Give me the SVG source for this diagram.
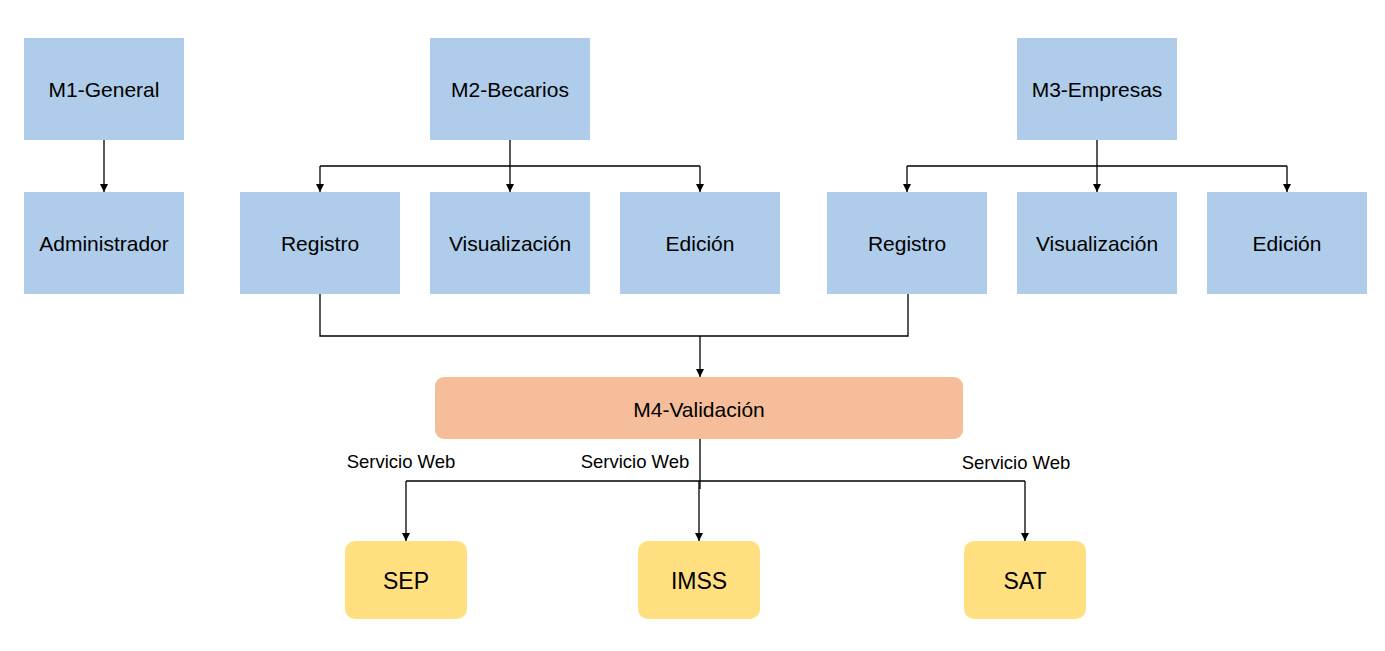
<svg xmlns="http://www.w3.org/2000/svg" width="1385" height="651" viewBox="0 0 1385 651">
<style>
.blue{fill:#AFCDEA}
.orange{fill:#F5BD99}
.yellow{fill:#FFDF80}
.t{font-family:"Liberation Sans",Arial,sans-serif;font-size:21px;fill:#000;text-anchor:middle;dominant-baseline:central}
.big{font-size:23px}
.lbl{font-family:"Liberation Sans",Arial,sans-serif;font-size:18.5px;fill:#000;text-anchor:middle}
.c{fill:none;stroke:#000;stroke-width:1.3}
</style>
<defs>
<marker id="ah" viewBox="0 0 10 10" refX="10" refY="5" markerWidth="8" markerHeight="8" markerUnits="userSpaceOnUse" orient="auto">
<path d="M0,0 L10,5 L0,10 z" fill="#000"/>
</marker>
</defs>
<rect width="1385" height="651" fill="#fff"/>
<g id="connectors">
<path class="c" d="M104,140 V192" marker-end="url(#ah)"/>
<path class="c" d="M510,140 V166 M320,166 H700"/>
<path class="c" d="M320,166 V192" marker-end="url(#ah)"/>
<path class="c" d="M510,166 V192" marker-end="url(#ah)"/>
<path class="c" d="M700,166 V192" marker-end="url(#ah)"/>
<path class="c" d="M1097,140 V166 M907,166 H1287"/>
<path class="c" d="M907,166 V192" marker-end="url(#ah)"/>
<path class="c" d="M1097,166 V192" marker-end="url(#ah)"/>
<path class="c" d="M1287,166 V192" marker-end="url(#ah)"/>
<path class="c" d="M320,294 V336 H908 V294"/>
<path class="c" d="M700,336 V377" marker-end="url(#ah)"/>
<path class="c" d="M700,439 V489 M406,481 H1025"/>
<path class="c" d="M406,481 V541" marker-end="url(#ah)"/>
<path class="c" d="M699,481 V541" marker-end="url(#ah)"/>
<path class="c" d="M1025,481 V541" marker-end="url(#ah)"/>
<text class="lbl" x="401" y="468">Servicio Web</text>
<text class="lbl" x="635" y="468">Servicio Web</text>
<text class="lbl" x="1016" y="469">Servicio Web</text>
</g>
<g id="m1"><rect class="blue" x="24" y="38" width="160" height="102"/><text class="t" x="104" y="89">M1-General</text></g>
<g id="admin"><rect class="blue" x="24" y="192" width="160" height="102"/><text class="t" x="104" y="243">Administrador</text></g>
<g id="m2"><rect class="blue" x="430" y="38" width="160" height="102"/><text class="t" x="510" y="89">M2-Becarios</text></g>
<g id="m2-registro"><rect class="blue" x="240" y="192" width="160" height="102"/><text class="t" x="320" y="243">Registro</text></g>
<g id="m2-visualizacion"><rect class="blue" x="430" y="192" width="160" height="102"/><text class="t" x="510" y="243">Visualización</text></g>
<g id="m2-edicion"><rect class="blue" x="620" y="192" width="160" height="102"/><text class="t" x="700" y="243">Edición</text></g>
<g id="m3"><rect class="blue" x="1017" y="38" width="160" height="102"/><text class="t" x="1097" y="89">M3-Empresas</text></g>
<g id="m3-registro"><rect class="blue" x="827" y="192" width="160" height="102"/><text class="t" x="907" y="243">Registro</text></g>
<g id="m3-visualizacion"><rect class="blue" x="1017" y="192" width="160" height="102"/><text class="t" x="1097" y="243">Visualización</text></g>
<g id="m3-edicion"><rect class="blue" x="1207" y="192" width="160" height="102"/><text class="t" x="1287" y="243">Edición</text></g>
<g id="m4"><rect class="orange" x="435" y="377" width="528" height="62" rx="9"/><text class="t" x="699" y="409">M4-Validación</text></g>
<g id="sep"><rect class="yellow" x="345" y="541" width="122" height="78" rx="10"/><text class="t big" x="406" y="581">SEP</text></g>
<g id="imss"><rect class="yellow" x="638" y="541" width="122" height="78" rx="10"/><text class="t big" x="699" y="581">IMSS</text></g>
<g id="sat"><rect class="yellow" x="964" y="541" width="122" height="78" rx="10"/><text class="t big" x="1025" y="581">SAT</text></g>
</svg>
